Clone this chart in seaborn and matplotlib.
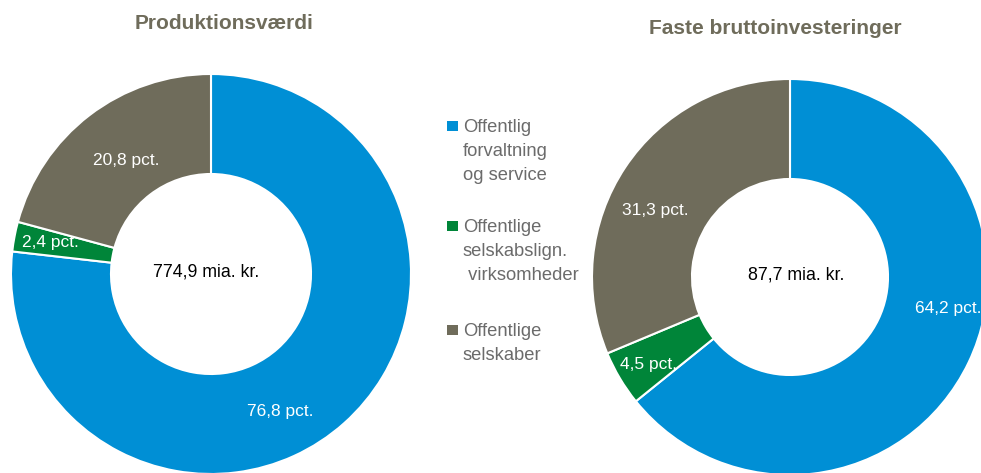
import matplotlib
matplotlib.use("Agg")
import matplotlib.pyplot as plt
import seaborn as sns

sns.set_theme(style="white")
plt.rcParams['font.family'] = ['Liberation Sans', 'DejaVu Sans']

categories = ["Offentlig\nforvaltning\nog service", "Offentlige\nselskabslign.\n virksomheder", "Offentlige\nselskaber"]
prod_values = [76.8, 2.4, 20.8]
inv_values = [64.2, 4.5, 31.3]
titles = ["Produktionsværdi", "Faste bruttoinvesteringer"]
totals = ["774,9 mia. kr.", "87,7 mia. kr."]

colors = ["#008FD5", "#008539", "#6F6C5B"]
title_color = "#6F6C5B"
legend_color = "#6B6B6B"

W, H = 981, 473
fig = plt.figure(figsize=(W / 100, H / 100), dpi=100)
ax = fig.add_axes([0, 0, 1, 1])

def Y(y):
    return H - y

# donut geometry (pixel coords)
donuts = [
    dict(values=prod_values, center=(211, 274), radius=200, width=100,
         title_xy=(224, 24), total_xy=(206, 272),
         label_xy=[(280, 411), (50, 243), (126, 160)]),
    dict(values=inv_values, center=(790, 277), radius=198, width=100,
         title_xy=(775, 29), total_xy=(796, 275),
         label_xy=[(948, 309), (648, 364), (655, 211)]),
]

for d, title, total in zip(donuts, titles, totals):
    cx, cy = d["center"]
    wedges, _ = ax.pie(d["values"], colors=colors, startangle=90, counterclock=False,
                       center=(cx, Y(cy)), radius=d["radius"],
                       wedgeprops=dict(width=d["width"], edgecolor="white", linewidth=1.5))
    for v, (lx, ly) in zip(d["values"], d["label_xy"]):
        ax.text(lx, Y(ly), f"{v:.1f}".replace(".", ",") + " pct.", color="white",
                fontsize=12.5, ha="center", va="center")
    ax.text(d["total_xy"][0], Y(d["total_xy"][1]), total, color="black",
            fontsize=12.8, ha="center", va="center")
    ax.text(d["title_xy"][0], Y(d["title_xy"][1]), title, color=title_color,
            fontsize=15, fontweight="bold", ha="center", va="center")

# legend
legend_rows = [127, 227, 331]
for cat, col, ly in zip(categories, colors, legend_rows):
    ax.scatter([452.5], [Y(ly - 1)], marker="s", s=55, color=col, edgecolors="none")
    ax.text(463, Y(ly - 8.5), cat, color=legend_color, fontsize=13.2, ha="left", va="top",
            linespacing=1.55)

ax.set_xlim(0, W)
ax.set_ylim(0, H)
ax.set_aspect("auto")
ax.axis("off")

fig.savefig("out.png", dpi=100)
